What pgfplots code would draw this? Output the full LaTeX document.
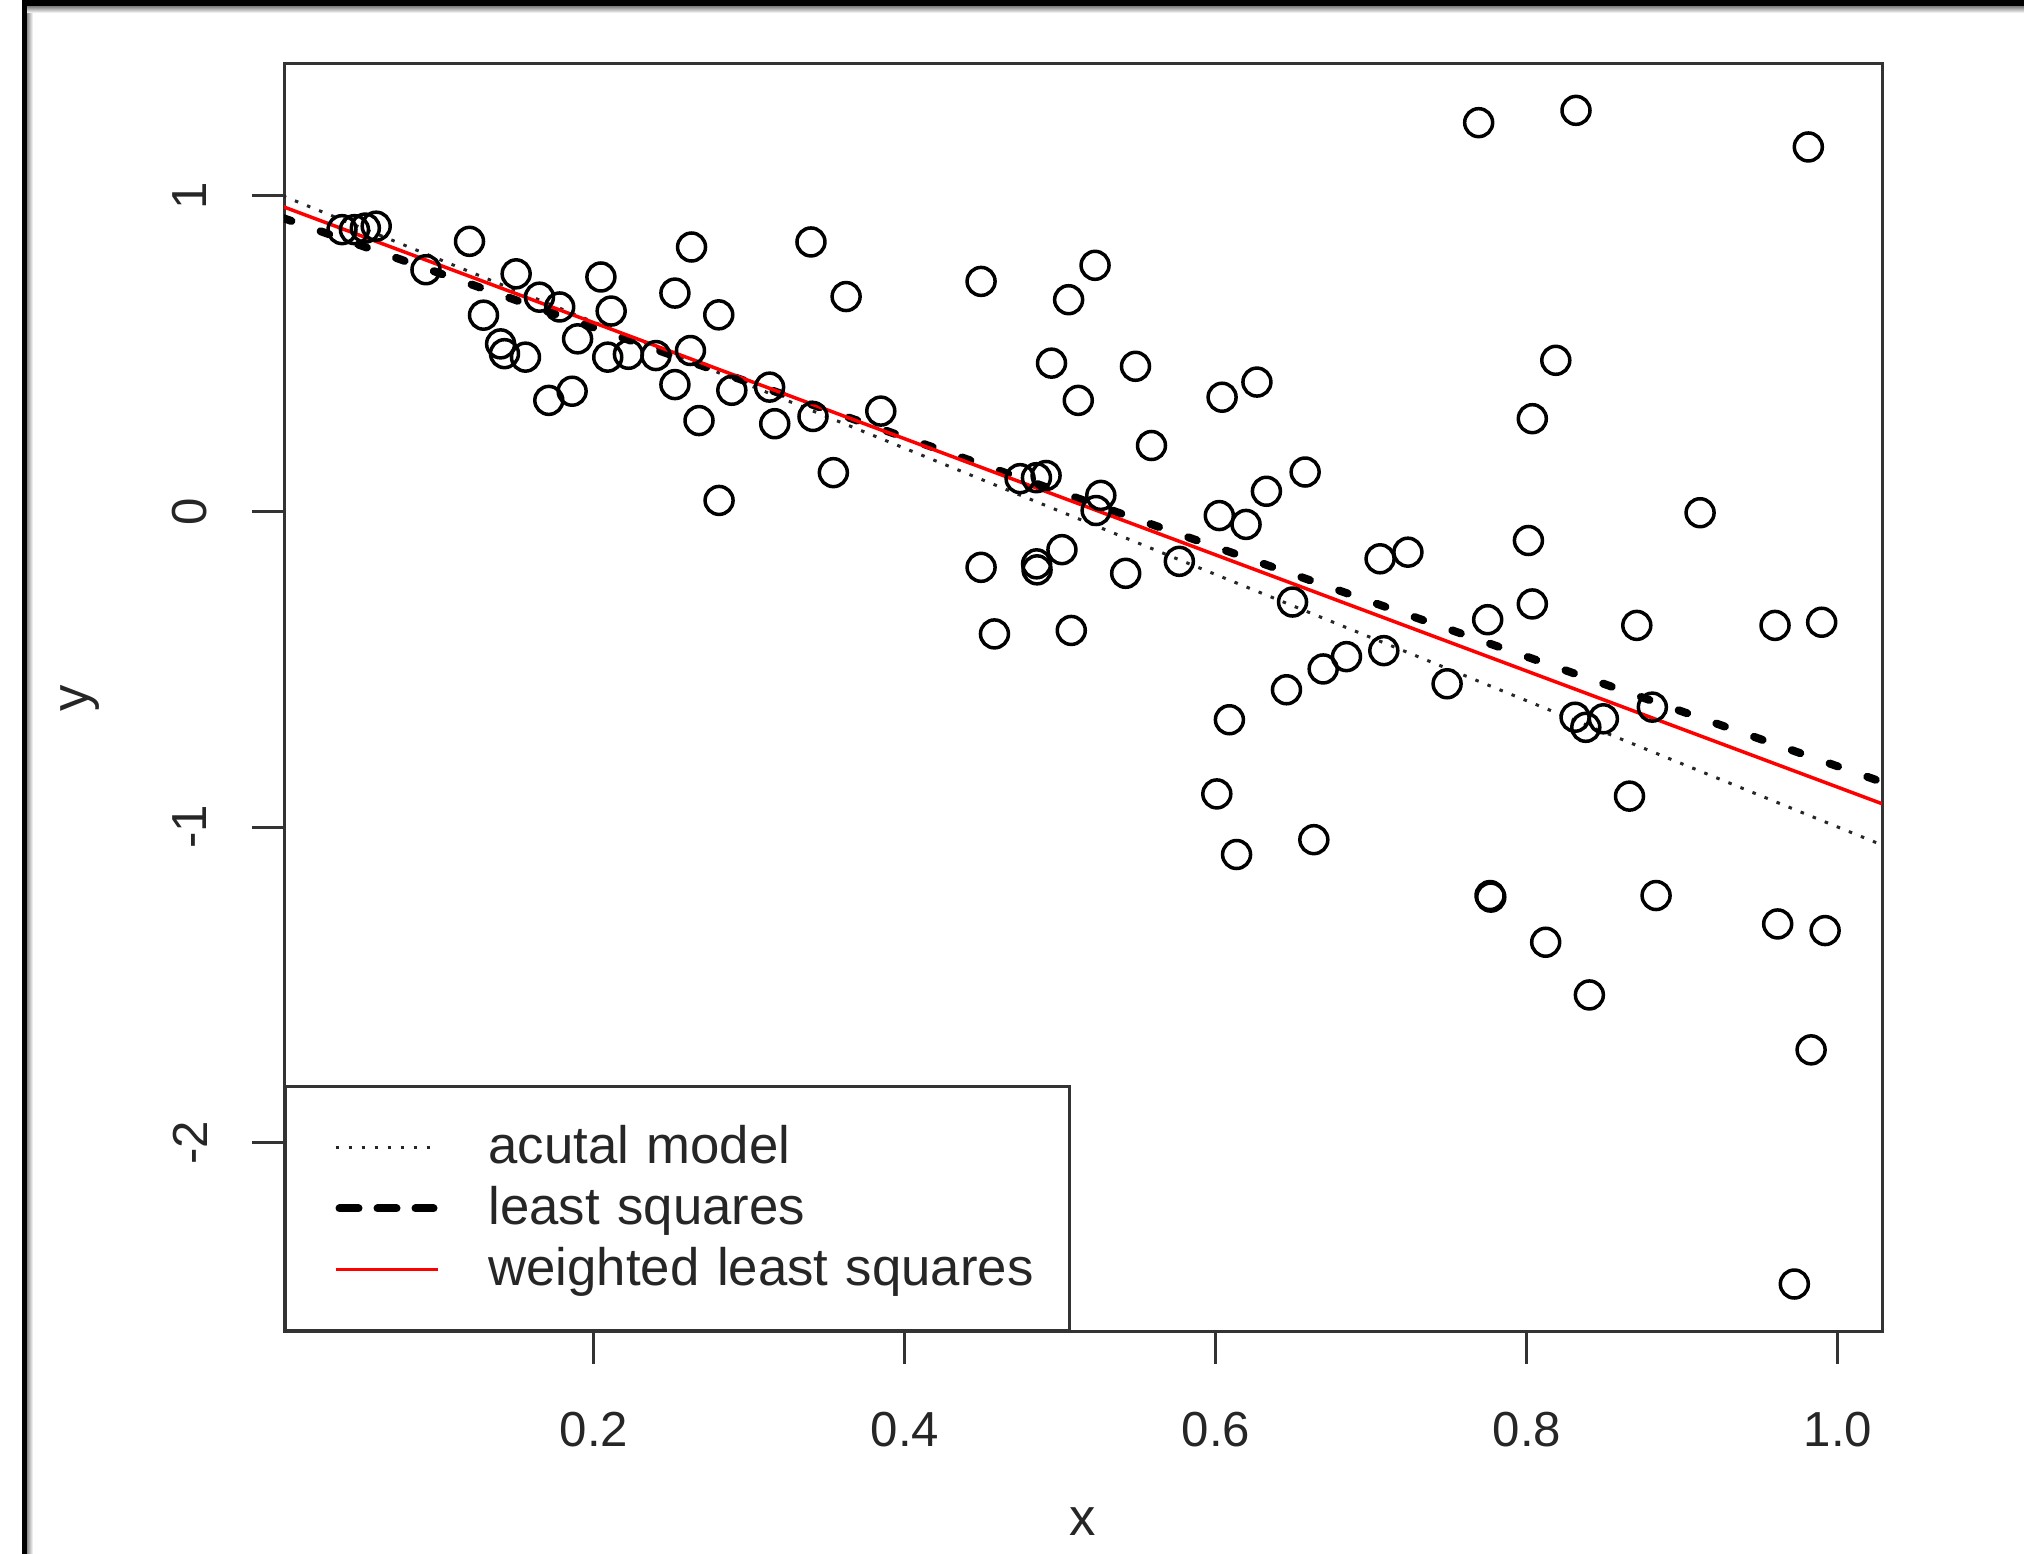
\documentclass[border=0pt]{standalone}
\usepackage{fontspec}
\setmainfont{Liberation Sans}
\usepackage{pgfplots}
\pgfplotsset{compat=1.18}
% legend sample for the least squares line: longer dashes than along the fit
\pgfplotsset{ls legend/.style={legend image code/.code={
    \path[draw=none, fill=none] (0mm,-3.05mm) rectangle (20.3mm,3.05mm);
    \draw[##1, dash pattern=on 1.9mm off 1.9mm] (5.4mm,0mm) -- (14.8mm,0mm);
}}}

\begin{document}
\begin{tikzpicture}
\useasboundingbox (0,0) rectangle (202.4mm,155.4mm);
\clip (0,0) rectangle (202.4mm,155.4mm);
% window frame around the plot device
\fill[black] (2.2mm,0) rectangle (2.7mm,155.4mm);
\fill[black] (2.2mm,154.7mm) rectangle (202.4mm,155.4mm);
\shade[left color=black!45, right color=white] (2.7mm,0) rectangle (3.3mm,154.7mm);
\shade[top color=black!45, bottom color=white] (2.7mm,154.1mm) rectangle (202.4mm,154.7mm);
\begin{axis}[
  at={(28.4mm,22.2mm)}, anchor=south west,
  scale only axis, width=159.8mm, height=126.8mm,
  xmin=0.0007, xmax=1.0284, ymin=-2.60, ymax=1.418,
  axis line style={black!80, line width=0.3mm},
  tick style={black!80, line width=0.3mm},
  tick align=outside, tick pos=left,
  major tick length=3.2mm,
  xtick={0.2,0.4,0.6,0.8,1.0},
  xticklabels={0.2,0.4,0.6,0.8,1.0},
  ytick={-2,-1,0,1},
  yticklabels={-2,-1,0,1},
  ticklabel style={font=\fontsize{14}{16}\selectfont, text=black!85},
  xticklabel style={anchor=center, yshift=-6.6mm},
  yticklabel style={anchor=center, xshift=-6.2mm, rotate=90},
  xlabel={x}, ylabel={y},
  every axis x label/.style={at={(axis description cs:0.5,0)}, anchor=center, inner sep=0pt, yshift=-19.0mm, font=\fontsize{15}{18}\selectfont, text=black!85},
  every axis y label/.style={at={(axis description cs:0,0.5)}, anchor=center, xshift=-20.4mm, rotate=90, font=\fontsize{15}{18}\selectfont, text=black!85},
  legend cell align=left,
  legend style={
    at={(rel axis cs:0,0)}, anchor=south west,
    draw=black!80, line width=0.3mm,
    font=\fontsize{15}{18}\selectfont, text=black!85,
    inner xsep=0pt, inner ysep=3.05mm,
    row sep=0pt,
    nodes={inner sep=0pt},
    /tikz/column 2/.style={text width=58.1mm, align=left},
  },
  legend image code/.code={
    \path[draw=none, fill=none] (0mm,-3.05mm) rectangle (20.3mm,3.05mm);
    \draw[#1] (5.0mm,0mm) -- (15.2mm,0mm);
  },
]
% actual model y = 1 - 2x
\addplot[black!85, line width=0.3mm, dash pattern=on 0.35mm off 0.95mm] coordinates {(0,1.0) (1.03,-1.06)};
\addlegendentry{acutal model}
% ordinary least squares fit
\addplot[black, line width=0.8mm, dash pattern=on 0.9mm off 3.1mm, line cap=round, ls legend] coordinates {(0,0.930) (1.03,-0.860)};
\addlegendentry{least squares}
% weighted least squares fit
\addplot[red, line width=0.35mm] coordinates {(0,0.966) (1.03,-0.929)};
\addlegendentry{weighted least squares}
% observations
\addplot[only marks, mark=o, mark size=1.4mm, mark options={line width=0.35mm, black}, forget plot] table {
x y
0.038 0.893
0.046 0.893
0.053 0.898
0.060 0.904
0.092 0.766
0.120 0.856
0.129 0.622
0.140 0.531
0.1425 0.500
0.150 0.753
0.156 0.489
0.165 0.679
0.171 0.352
0.178 0.648
0.186 0.381
0.1895 0.547
0.2045 0.743
0.2111 0.635
0.2089 0.489
0.2222 0.498
0.2399 0.494
0.2521 0.692
0.2521 0.402
0.2621 0.510
0.2628 0.838
0.2676 0.288
0.2803 0.623
0.2805 0.035
0.2887 0.384
0.313 0.394
0.3163 0.278
0.3396 0.854
0.3409 0.301
0.354 0.123
0.3622 0.681
0.3845 0.318
0.449 0.729
0.449 -0.177
0.4576 -0.388
0.4741 0.104
0.4846 0.107
0.4908 0.114
0.4847 -0.166
0.4850 -0.185
0.4943 0.470
0.501 -0.121
0.5053 0.671
0.507 -0.377
0.5115 0.352
0.5223 0.780
0.523 0.003
0.526 0.051
0.542 -0.196
0.5483 0.460
0.5586 0.209
0.5765 -0.158
0.6006 -0.895
0.6022 -0.013
0.604 0.362
0.6087 -0.660
0.6133 -1.087
0.6194 -0.041
0.6264 0.410
0.6325 0.064
0.6454 -0.565
0.6493 -0.287
0.6574 0.125
0.663 -1.040
0.669 -0.499
0.684 -0.460
0.7056 -0.150
0.708 -0.441
0.7235 -0.129
0.7487 -0.546
0.769 1.232
0.7748 -0.343
0.7763 -1.217
0.7768 -1.222
0.801 -0.092
0.8035 0.294
0.8035 -0.293
0.8121 -1.365
0.8186 0.479
0.8316 1.271
0.831 -0.652
0.8379 -0.684
0.8402 -1.532
0.8492 -0.657
0.866 -0.902
0.8707 -0.361
0.8807 -0.620
0.8831 -1.217
0.9114 -0.004
0.9596 -0.361
0.9613 -1.307
0.972 -2.448
0.981 1.155
0.9828 -1.706
0.9896 -0.351
0.9918 -1.328
};
\end{axis}
\end{tikzpicture}
\end{document}
